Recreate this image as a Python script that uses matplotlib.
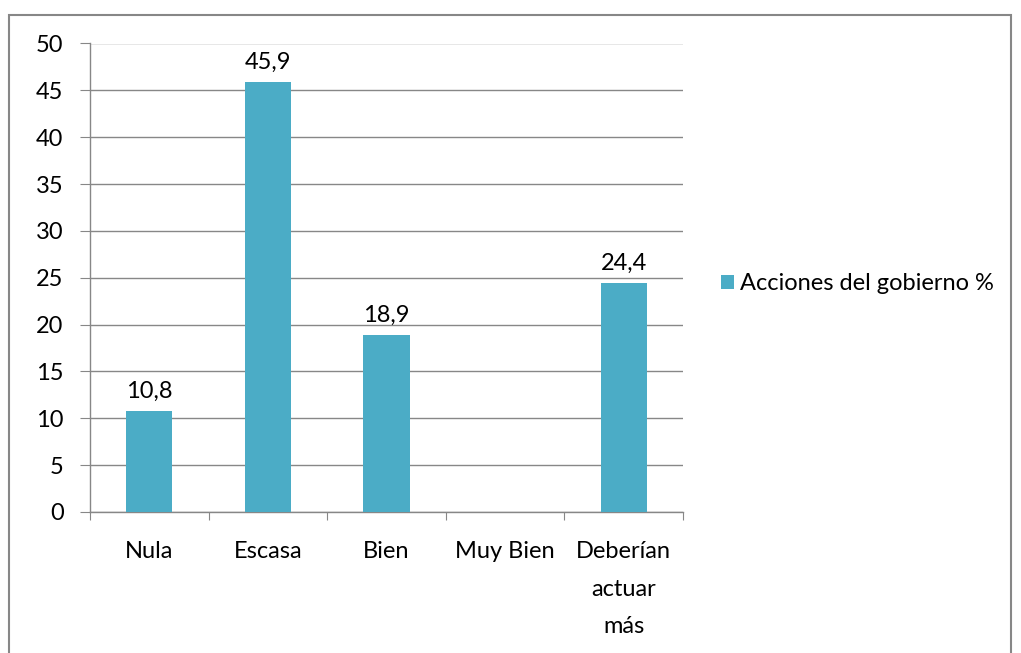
import matplotlib as mpl
mpl.use('Agg')
import matplotlib.pyplot as plt
from matplotlib.patches import Rectangle

# DATOS
categorias = ["Nula", "Escasa", "Bien", "Muy Bien", "Deberían\nactuar\nmás"]
valores = [10.8, 45.9, 18.9, 0, 24.4]
etiquetas = ["10,8", "45,9", "18,9", "", "24,4"]
serie = "Acciones del gobierno %"

plt.rcParams['font.family'] = ['Lato', 'DejaVu Sans']
color_barra = "#4BACC6"
gris = "#878787"
fs = 17

fig = plt.figure(figsize=(10.21, 6.53), dpi=100)
ax = fig.add_axes([90/1021, 1 - 512/653, (683 - 90)/1021, (512 - 43.5)/653])

x = list(range(len(categorias)))
barras = ax.bar(x, valores, width=0.39, color=color_barra, label=serie, zorder=3)

for b, t in zip(barras, etiquetas):
    if t:
        ax.text(b.get_x() + b.get_width()/2, b.get_height() + 1.0, t,
                ha='center', va='bottom', fontsize=fs)

ax.set_xlim(-0.5, len(categorias) - 0.5)
ax.set_ylim(0, 50)
ax.set_yticks(range(0, 51, 5))
ax.tick_params(axis='y', labelsize=fs, length=7, color=gris, pad=12)
ax.set_xticks([i - 0.5 for i in range(len(categorias) + 1)], minor=False)
ax.set_xticklabels([])
ax.set_xticks(x, minor=True)
ax.set_xticklabels(categorias, minor=True, fontsize=fs, linespacing=1.98, va='top')
ax.tick_params(axis='x', which='minor', length=0, pad=21)
ax.tick_params(axis='x', which='major', length=6, color=gris)

ax.grid(axis='y', color=gris, linewidth=1, zorder=0)
for s in ['top', 'right']:
    ax.spines[s].set_visible(False)
for s in ['left', 'bottom']:
    ax.spines[s].set_color(gris)
    ax.spines[s].set_linewidth(1)

ax.legend(loc='center left', bbox_to_anchor=(1.028, 0.487), frameon=False,
          fontsize=fs, handlelength=0.55, handleheight=0.55, handletextpad=0.25)

# BORDE
fig.patches.append(Rectangle((9/1021, -0.01), (1011 - 9)/1021, 1 - 15/653 + 0.01,
                             transform=fig.transFigure, fill=False,
                             edgecolor=gris, linewidth=1.5))

fig.savefig("out.png", dpi=100)
